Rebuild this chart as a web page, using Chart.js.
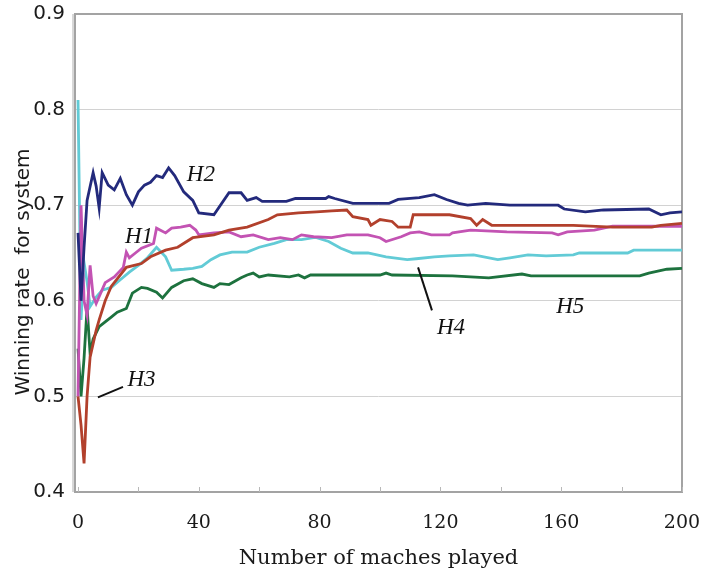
<!DOCTYPE html>
<html>
<head>
<meta charset="utf-8">
<script src="https://cdn.jsdelivr.net/npm/chart.js@4/dist/chart.umd.min.js"></script>
<style>
  html, body { margin: 0; padding: 0; background: #ffffff; }
  #wrap { width: 709px; height: 575px; }
</style>
</head>
<body>
<div id="wrap"><canvas id="chart" width="709" height="575"></canvas></div>
<script>
// Running winning rate of the system against five opponents H1..H5.

const h2Matches = [0,1,2,3,5,6,7,8,10,12,14,16,18,20,22,24,26,28,30,32,35,38,40,45,50,54,56,59,61,69,72,82,83,85,91,103,106,113,118,122,126,129,135,143,159,161,168,174,189,193,196,200];
const h2Rate = [0.671,0.600,0.656,0.705,0.734,0.720,0.697,0.734,0.721,0.716,0.728,0.711,0.700,0.714,0.721,0.724,0.731,0.729,0.739,0.731,0.714,0.705,0.692,0.690,0.713,0.713,0.705,0.708,0.704,0.704,0.707,0.707,0.709,0.707,0.702,0.702,0.706,0.708,0.711,0.706,0.702,0.700,0.702,0.700,0.700,0.696,0.693,0.695,0.696,0.690,0.692,0.693];

const h3Matches = [0,1,2,3,4,6,7,9,11,12,16,21,24,29,33,38,45,50,56,63,66,73,79,84,89,91,96,97,100,104,106,110,111,123,130,132,134,137,164,177,190,193,200];
const h3Rate = [0.500,0.470,0.430,0.500,0.541,0.569,0.580,0.600,0.615,0.619,0.635,0.639,0.646,0.653,0.656,0.666,0.669,0.674,0.677,0.685,0.690,0.692,0.693,0.694,0.695,0.688,0.685,0.679,0.685,0.683,0.677,0.677,0.690,0.690,0.686,0.679,0.685,0.679,0.679,0.677,0.677,0.679,0.681];

const h1Matches = [0,1,2,3,4,5,6,9,12,15,16,17,19,21,25,26,29,31,34,37,39,40,45,50,54,58,63,67,71,74,78,84,89,96,100,102,107,110,113,117,123,124,130,142,157,159,162,171,177,200];
const h1Rate = [0.500,0.700,0.600,0.585,0.637,0.605,0.597,0.619,0.625,0.635,0.651,0.645,0.650,0.655,0.660,0.676,0.671,0.676,0.677,0.679,0.674,0.669,0.671,0.672,0.667,0.669,0.664,0.666,0.664,0.669,0.667,0.666,0.669,0.669,0.666,0.662,0.667,0.671,0.672,0.669,0.669,0.671,0.674,0.672,0.671,0.669,0.672,0.674,0.678,0.678];

const h4Matches = [0,1,2,3,4,6,8,11,14,17,20,23,26,29,31,35,38,41,44,47,51,56,60,65,69,74,78,79,83,87,91,96,102,109,112,118,123,131,139,143,149,155,164,166,182,184,200];
const h4Rate = [0.810,0.580,0.640,0.620,0.594,0.604,0.611,0.614,0.622,0.630,0.637,0.645,0.656,0.646,0.632,0.633,0.634,0.636,0.643,0.648,0.651,0.651,0.656,0.660,0.664,0.664,0.666,0.666,0.662,0.655,0.650,0.650,0.646,0.643,0.644,0.646,0.647,0.648,0.643,0.645,0.648,0.647,0.648,0.650,0.650,0.653,0.653];

const h5Matches = [0,1,2,3,4,5,7,9,11,13,16,18,21,23,26,28,31,35,38,41,45,47,50,54,56,58,60,63,70,73,75,77,80,100,102,104,124,130,136,147,150,186,189,195,200];
const h5Rate = [0.550,0.500,0.540,0.593,0.545,0.560,0.573,0.578,0.583,0.588,0.592,0.608,0.614,0.613,0.609,0.603,0.614,0.621,0.623,0.618,0.614,0.618,0.617,0.624,0.627,0.629,0.625,0.627,0.625,0.627,0.624,0.627,0.627,0.627,0.629,0.627,0.626,0.625,0.624,0.628,0.626,0.626,0.629,0.633,0.634];

const xTicks = [0, 20, 40, 60, 80, 100, 120, 140, 160, 180, 200];
const yTicks = [0.4, 0.5, 0.6, 0.7, 0.8, 0.9];

// Curve labels (text in data coordinates) and their leader lines.
const curveLabels = [
  { text: 'H2', x: 40.7, y: 0.732 },
  { text: 'H1', x: 20.2, y: 0.667 },
  { text: 'H3', x: 21.0, y: 0.517 },
  { text: 'H4', x: 123.5, y: 0.572 },
  { text: 'H5', x: 163.0, y: 0.594 }
];
const leaderLines = [
  { x1: 6.6, y1: 0.499, x2: 14.9, y2: 0.510 },
  { x1: 112.6, y1: 0.635, x2: 117.2, y2: 0.590 }
];

const toPoints = (xs, ys) => xs.map((x, i) => ({ x: x, y: ys[i] }));

const series = [
  { label: 'H2', xs: h2Matches, ys: h2Rate, color: '#232a7c' },
  { label: 'H3', xs: h3Matches, ys: h3Rate, color: '#b2402c' },
  { label: 'H1', xs: h1Matches, ys: h1Rate, color: '#c353b3' },
  { label: 'H4', xs: h4Matches, ys: h4Rate, color: '#62cbd6' },
  { label: 'H5', xs: h5Matches, ys: h5Rate, color: '#1d723e' }
];

const framePlugin = {
  id: 'frame',
  beforeDatasetsDraw(chart) {
    const { ctx, chartArea: a, scales } = chart;
    ctx.save();
    ctx.strokeStyle = '#a3a3a3';
    ctx.lineWidth = 2;
    ctx.strokeRect(a.left, a.top, a.right - a.left, a.bottom - a.top);
    ctx.lineWidth = 1;
    ctx.strokeStyle = '#b0b0b0';
    ctx.beginPath();
    ctx.moveTo(a.left - 2, a.top);
    ctx.lineTo(a.left - 2, a.bottom);
    ctx.stroke();
    // short inward tick marks along the bottom axis
    ctx.strokeStyle = '#b8b8b8';
    xTicks.forEach(v => {
      const px = Math.round(scales.x.getPixelForValue(v)) + 0.5;
      ctx.beginPath();
      ctx.moveTo(px, a.bottom);
      ctx.lineTo(px, a.bottom - 5);
      ctx.stroke();
    });
    ctx.restore();
  }
};

const labelPlugin = {
  id: 'curveLabels',
  afterDatasetsDraw(chart) {
    const { ctx, scales: { x, y } } = chart;
    ctx.save();
    ctx.strokeStyle = '#111111';
    ctx.lineWidth = 2;
    leaderLines.forEach(l => {
      ctx.beginPath();
      ctx.moveTo(x.getPixelForValue(l.x1), y.getPixelForValue(l.y1));
      ctx.lineTo(x.getPixelForValue(l.x2), y.getPixelForValue(l.y2));
      ctx.stroke();
    });
    ctx.fillStyle = '#111111';
    ctx.font = 'italic 23px "Liberation Serif", "DejaVu Serif", serif';
    ctx.textAlign = 'center';
    ctx.textBaseline = 'middle';
    curveLabels.forEach(c => {
      ctx.fillText(c.text, x.getPixelForValue(c.x), y.getPixelForValue(c.y));
    });
    ctx.restore();
  }
};

new Chart(document.getElementById('chart'), {
  type: 'line',
  data: {
    datasets: series.map(s => ({
      label: s.label,
      data: toPoints(s.xs, s.ys),
      borderColor: s.color,
      backgroundColor: s.color,
      borderWidth: 2.8,
      pointRadius: 0,
      tension: 0,
      fill: false
    }))
  },
  options: {
    responsive: false,
    animation: false,
    layout: { padding: { top: 14, right: 27, left: 0, bottom: 0 } },
    plugins: {
      legend: { display: false },
      tooltip: { enabled: false }
    },
    scales: {
      x: {
        type: 'linear',
        min: -1,
        max: 200,
        afterBuildTicks: s => { s.ticks = xTicks.map(v => ({ value: v })); },
        afterFit: s => { s.height = 83; },
        border: { display: false },
        grid: {
          display: true,
          drawOnChartArea: false,
          drawTicks: true,
          tickLength: 20,
          tickColor: 'rgba(0,0,0,0)'
        },
        ticks: {
          autoSkip: false,
          maxRotation: 0,
          padding: 0,
          color: '#1a1a1a',
          font: { family: '"DejaVu Serif", serif', size: 19 },
          callback: v => (v % 40 === 0 ? String(v) : '')
        },
        title: {
          display: true,
          text: 'Number of maches played',
          color: '#1a1a1a',
          font: { family: '"DejaVu Serif", serif', size: 21 },
          padding: { top: 0, bottom: 4 }
        }
      },
      y: {
        type: 'linear',
        min: 0.4,
        max: 0.9,
        afterBuildTicks: s => { s.ticks = yTicks.map(v => ({ value: v })); },
        afterFit: s => { s.width = 75; },
        border: { display: false },
        grid: {
          color: '#d2d2d2',
          lineWidth: 1,
          drawTicks: true,
          tickLength: 10,
          tickColor: 'rgba(0,0,0,0)'
        },
        ticks: {
          padding: 0,
          color: '#1a1a1a',
          font: { family: '"DejaVu Sans", sans-serif', size: 20 },
          callback: v => Number(v).toFixed(1)
        },
        title: {
          display: true,
          text: 'Winning rate  for system      ',
          color: '#1a1a1a',
          font: { family: '"DejaVu Sans", sans-serif', size: 20 },
          padding: { top: 12, bottom: 0 }
        }
      }
    }
  },
  plugins: [framePlugin, labelPlugin]
});
</script>
</body>
</html>
